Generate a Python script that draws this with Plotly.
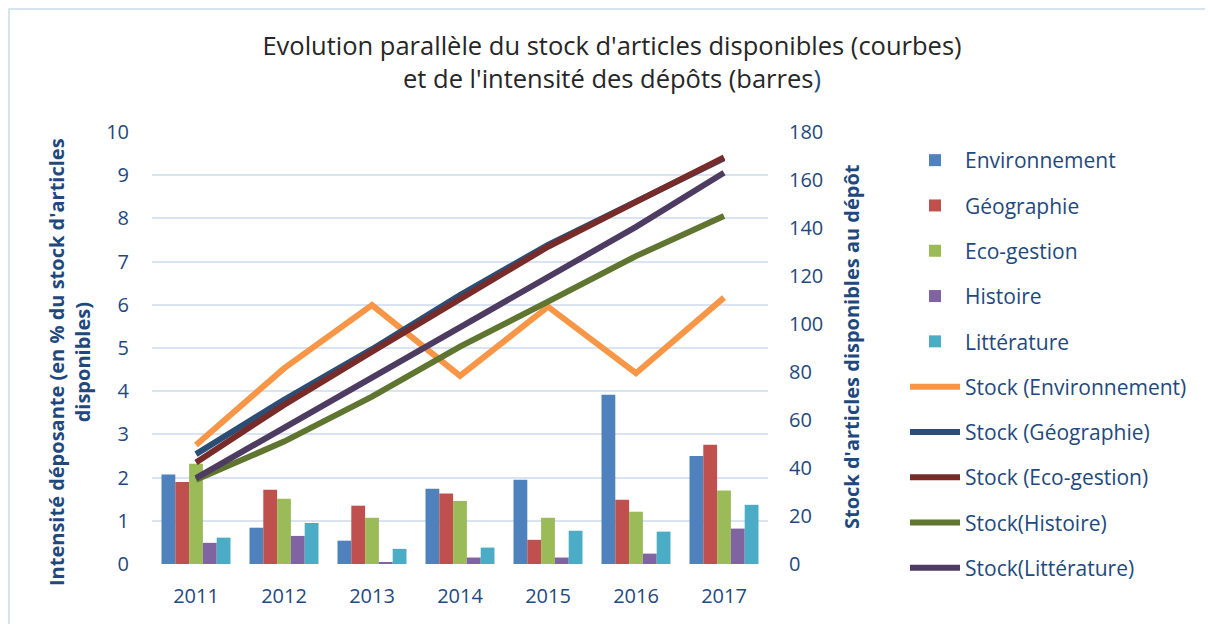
import plotly.graph_objects as go

years = ["2011", "2012", "2013", "2014", "2015", "2016", "2017"]

# Intensité déposante (barres, axe gauche)
env = [2.07, 0.84, 0.54, 1.74, 1.95, 3.92, 2.50]
geo = [1.90, 1.72, 1.35, 1.63, 0.56, 1.49, 2.76]
eco = [2.32, 1.51, 1.07, 1.46, 1.07, 1.21, 1.70]
hist = [0.49, 0.65, 0.03, 0.15, 0.15, 0.24, 0.82]
lit = [0.61, 0.95, 0.35, 0.38, 0.77, 0.75, 1.37]

# Stock d'articles disponibles (courbes, axe droit)
s_env = [49.6, 81.5, 107.9, 78.4, 107.2, 79.5, 111.0]
s_geo = [45.8, 68.4, 89.5, 112.0, 133.0, 151.0, 169.0]
s_eco = [42.3, 66.3, 88.5, 110.5, 132.2, 150.9, 169.4]
s_hist = [35.1, 51.0, 69.7, 90.6, 109.3, 128.3, 145.0]
s_lit = [35.8, 56.6, 78.1, 98.2, 119.7, 140.5, 163.0]

bar_names = ["Environnement", "Géographie", "Eco-gestion", "Histoire", "Littérature"]
bar_vals = [env, geo, eco, hist, lit]
bar_colors = ["#4f81bd", "#c0504d", "#9bbb59", "#8064a2", "#4bacc6"]

line_names = ["Stock (Environnement)", "Stock (Géographie)", "Stock (Eco-gestion)",
              "Stock(Histoire)", "Stock(Littérature)"]
line_vals = [s_env, s_geo, s_eco, s_hist, s_lit]
line_colors = ["#f79646", "#2c4d75", "#772c2a", "#5f7530", "#4d3b62"]

OFF = 8  # page body margin
W, H = 1213 - OFF, 624 - OFF
# plot area in page coordinates: x 152..768, y 131.7..564.3
ML = 152 - OFF
MR = (W + OFF) - 768
MT = 132 - OFF
MB = (H + OFF) - 564
PW = W - ML - MR
PH = H - MT - MB


def px_x(p):  # page x -> paper fraction
    return (p - OFF - ML) / PW


def px_y(p):  # page y -> paper fraction
    return (H - MB - (p - OFF)) / PH


fig = go.Figure()
for i, (n, v, c) in enumerate(zip(bar_names, bar_vals, bar_colors)):
    fig.add_trace(go.Bar(x=years, y=v, name=n, marker=dict(color=c, line=dict(width=0)),
                         legendgroup="g%d" % i, yaxis="y"))
for i, (n, v, c) in enumerate(zip(line_names, line_vals, line_colors)):
    fig.add_trace(go.Scatter(x=years, y=v, name=n, mode="lines",
                             line=dict(color=c, width=6), legendgroup="l%d" % i,
                             yaxis="y2"))

tick_color = "#1f497d"
grid_color = "#d9e3f1"
fnt = "Open Sans, Lato, sans-serif"

fig.update_layout(
    width=W, height=H,
    margin=dict(l=ML, r=MR, t=MT, b=MB, autoexpand=False),
    paper_bgcolor="white", plot_bgcolor="white",
    font=dict(family=fnt, color=tick_color, size=20),
    barmode="group", bargap=0.216, bargroupgap=0,
    title=dict(
        text="Evolution parallèle du stock d'articles disponibles (courbes)<br>"
             "et de l'intensité des dépôts (barres<span style='color:#1f497d'>)</span>",
        x=(612 - OFF) / W, xref="container", xanchor="center",
        y=1 - (55 - OFF) / H, yref="container", yanchor="top",
        font=dict(family=fnt, size=25.5, color="#262626"),
    ),
    xaxis=dict(type="category", range=[-0.5, 6.5], showgrid=False, zeroline=False,
               showline=False, ticks="", ticklabelstandoff=18,
               tickfont=dict(size=20, color=tick_color)),
    yaxis=dict(range=[0, 10], dtick=1, showgrid=True, gridcolor=grid_color, gridwidth=2,
               zeroline=False, showline=False, ticks="", ticklabelstandoff=22,
               tickfont=dict(size=20, color=tick_color)),
    yaxis2=dict(range=[0, 180], dtick=20, overlaying="y", side="right", showgrid=False,
                zeroline=False, showline=False, ticks="", ticklabelstandoff=20,
                tickfont=dict(size=20, color=tick_color)),
    legend=dict(x=px_x(905), y=px_y(140), xanchor="left", yanchor="top",
                font=dict(size=21, color=tick_color), tracegroupgap=15,
                itemwidth=50, bgcolor="rgba(0,0,0,0)", traceorder="grouped",
                maxheight=560),
    showlegend=True,
    annotations=[
        dict(text="<b>Intensité déposante (en % du stock d'articles<br>disponibles)</b>",
             textangle=-90, x=px_x(69), y=px_y(362), xref="paper", yref="paper",
             showarrow=False, font=dict(size=20, color=tick_color, family=fnt),
             xanchor="center", yanchor="middle"),
        dict(text="<b>Stock d'articles disponibles au dépôt</b>",
             textangle=-90, x=px_x(851), y=px_y(347), xref="paper", yref="paper",
             showarrow=False, font=dict(size=20, color=tick_color, family=fnt),
             xanchor="center", yanchor="middle"),
    ],
    shapes=[
        dict(type="rect", xref="paper", yref="paper", x0=px_x(9), x1=px_x(1208),
             y0=px_y(640), y1=px_y(9), line=dict(color="#d6e3f1", width=2),
             fillcolor="rgba(0,0,0,0)", layer="below"),
    ],
)

fig.write_html("out.html")
